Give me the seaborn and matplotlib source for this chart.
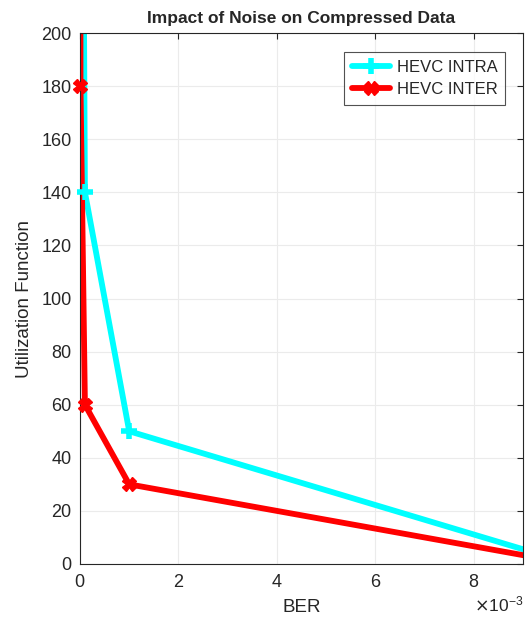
import numpy as np
import pandas as pd
import seaborn as sns
import matplotlib.pyplot as plt
from matplotlib.lines import Line2D

ber = [1e-6, 1e-5, 1e-4, 1e-3, 1e-2]
intra_util = [600, 450, 140, 50, 0]
inter_util = [400, 180, 60, 30, 0]
labels = ['HEVC INTRA', 'HEVC INTER']
colors = ['#00FFFF', '#FF0000']
markers = ['+', 'X']

df = pd.DataFrame({
    'BER': ber * 2,
    'Utilization': intra_util + inter_util,
    'Codec': [labels[0]] * len(ber) + [labels[1]] * len(ber),
})

sns.set_style('whitegrid')
plt.rcParams['font.family'] = ['Liberation Sans', 'DejaVu Sans']

fig = plt.figure(figsize=(5.28, 6.25), dpi=100)
ax = fig.add_axes([80 / 528, 1 - 564 / 625, 443 / 528, 531 / 625])

sns.lineplot(data=df, x='BER', y='Utilization', hue='Codec', palette=colors,
             linewidth=4.2, legend=False, ax=ax, sort=False, estimator=None)

# markers for points inside the view, drawn unclipped like MATLAB
for i, lab in enumerate(labels):
    sub = df[(df['Codec'] == lab) & (df['Utilization'] <= 200) & (df['BER'] <= 9e-3)]
    ax.plot(sub['BER'], sub['Utilization'], linestyle='none', marker=markers[i],
            color=colors[i], markersize=11 if i == 0 else 10, mew=4 if i == 0 else 1,
            clip_on=False, zorder=5)

ax.set_xlim(0, 9e-3)
ax.set_ylim(0, 200)
ax.set_xticks([0, 2e-3, 4e-3, 6e-3, 8e-3])
ax.set_yticks(range(0, 201, 20))
ax.ticklabel_format(axis='x', style='sci', scilimits=(0, 0), useMathText=True)
ax.xaxis.get_offset_text().set_fontsize(12.5)
ax.xaxis.get_offset_text().set_color('#262626')

ax.grid(True, color='#ebebeb', linewidth=0.8)
for s in ax.spines.values():
    s.set_visible(True)
    s.set_color('#262626')
    s.set_linewidth(0.8)
ax.tick_params(direction='in', top=True, right=True, length=4, labelsize=13,
               colors='#262626', width=0.8)
ax.tick_params(axis='x', pad=7)
ax.tick_params(axis='y', pad=6)

ax.set_xlabel('BER', fontsize=13.5, labelpad=6, color='#262626')
ax.set_ylabel('Utilization Function', fontsize=13.5, labelpad=6, color='#262626')
ax.set_title('Impact of Noise on Compressed Data', fontsize=12.5, fontweight='bold', pad=7)

handles = [
    Line2D([], [], color=colors[0], lw=4.2, marker='+', markersize=11, mew=4),
    Line2D([], [], color=colors[1], lw=4.2, marker='X', markersize=10),
]
leg = ax.legend(handles, labels, loc='upper right',
                bbox_to_anchor=((505 - 80) / 443, (564 - 52) / 531), borderaxespad=0,
                fontsize=12, frameon=True, fancybox=False, handlelength=2.3,
                borderpad=0.45, labelspacing=0.45, handletextpad=0.4)
leg.get_frame().set_edgecolor('#262626')
leg.get_frame().set_linewidth(0.8)

plt.savefig('out.png', dpi=100)
plt.close()
